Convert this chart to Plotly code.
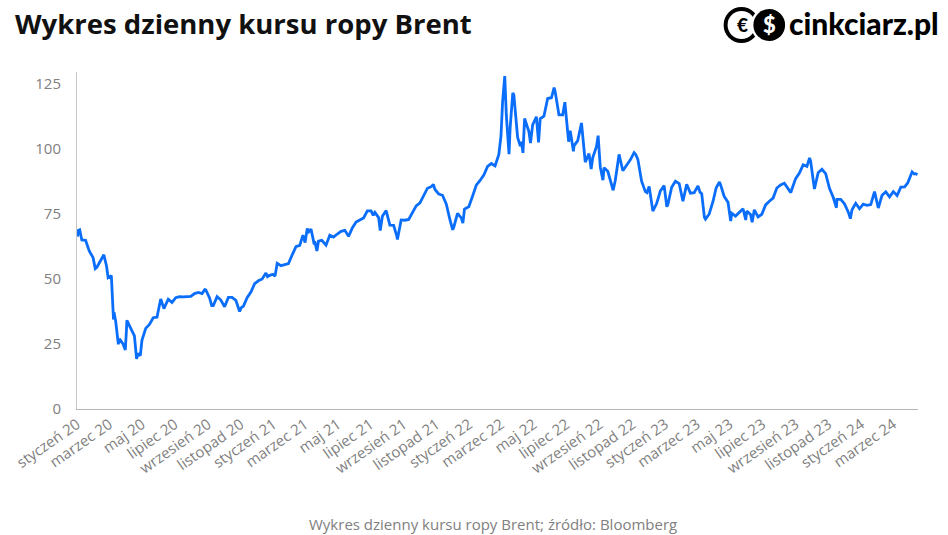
import plotly.graph_objects as go

dates = [
"2020-01-02","2020-01-03","2020-01-06","2020-01-10","2020-01-17","2020-01-24","2020-01-31","2020-02-04","2020-02-07","2020-02-14","2020-02-20","2020-02-25","2020-02-28",
"2020-03-05","2020-03-06","2020-03-09","2020-03-10","2020-03-13","2020-03-18","2020-03-20","2020-03-27","2020-03-31","2020-04-02","2020-04-03","2020-04-09","2020-04-14","2020-04-17","2020-04-21","2020-04-24","2020-04-28",
"2020-05-01","2020-05-08","2020-05-15","2020-05-22","2020-05-29","2020-06-05","2020-06-11","2020-06-19","2020-06-26","2020-07-03","2020-07-10","2020-07-17","2020-07-24","2020-07-31",
"2020-08-07","2020-08-14","2020-08-21","2020-08-26","2020-08-28","2020-09-04","2020-09-08","2020-09-11","2020-09-18","2020-09-25","2020-10-02","2020-10-09","2020-10-16","2020-10-23","2020-10-30",
"2020-11-02","2020-11-06","2020-11-13","2020-11-20","2020-11-27","2020-12-04","2020-12-11","2020-12-18","2020-12-21","2020-12-24","2020-12-31",
"2021-01-04","2021-01-08","2021-01-15","2021-01-22","2021-01-29","2021-02-05","2021-02-12","2021-02-19","2021-02-25","2021-03-01","2021-03-05","2021-03-08","2021-03-12","2021-03-18","2021-03-19","2021-03-23","2021-03-26",
"2021-04-01","2021-04-09","2021-04-16","2021-04-23","2021-04-30","2021-05-07","2021-05-14","2021-05-21","2021-05-28","2021-06-04","2021-06-11","2021-06-18","2021-06-25",
"2021-07-02","2021-07-06","2021-07-09","2021-07-16","2021-07-19","2021-07-23","2021-07-30","2021-08-06","2021-08-13","2021-08-19","2021-08-20","2021-08-27",
"2021-09-03","2021-09-10","2021-09-17","2021-09-24","2021-10-01","2021-10-08","2021-10-15","2021-10-22","2021-10-26","2021-10-29","2021-11-05","2021-11-12","2021-11-19","2021-11-26",
"2021-12-01","2021-12-03","2021-12-10","2021-12-17","2021-12-20","2021-12-23","2021-12-31",
"2022-01-07","2022-01-14","2022-01-21","2022-01-28","2022-02-04","2022-02-11","2022-02-18","2022-02-23","2022-02-25","2022-03-01","2022-03-04","2022-03-08","2022-03-11","2022-03-16","2022-03-18","2022-03-23","2022-03-25",
"2022-04-01","2022-04-06","2022-04-08","2022-04-11","2022-04-14","2022-04-22","2022-04-25","2022-04-29","2022-05-06","2022-05-10","2022-05-13","2022-05-20","2022-05-27",
"2022-06-03","2022-06-08","2022-06-10","2022-06-17","2022-06-24","2022-06-28","2022-07-01","2022-07-05","2022-07-08","2022-07-14","2022-07-15","2022-07-22","2022-07-29",
"2022-08-05","2022-08-12","2022-08-16","2022-08-19","2022-08-26","2022-08-29","2022-09-02","2022-09-07","2022-09-09","2022-09-16","2022-09-23","2022-09-26","2022-09-30",
"2022-10-07","2022-10-14","2022-10-21","2022-10-28","2022-11-04","2022-11-07","2022-11-11","2022-11-18","2022-11-25","2022-11-28","2022-12-02","2022-12-09","2022-12-16","2022-12-23","2022-12-30",
"2023-01-04","2023-01-06","2023-01-13","2023-01-20","2023-01-27","2023-02-03","2023-02-10","2023-02-17","2023-02-24","2023-03-03","2023-03-07","2023-03-10","2023-03-15","2023-03-17","2023-03-24","2023-03-31",
"2023-04-06","2023-04-12","2023-04-14","2023-04-21","2023-04-28","2023-05-03","2023-05-05","2023-05-12","2023-05-19","2023-05-26","2023-05-31","2023-06-02","2023-06-09","2023-06-12","2023-06-16","2023-06-23","2023-06-30",
"2023-07-07","2023-07-14","2023-07-21","2023-07-28","2023-08-04","2023-08-11","2023-08-18","2023-08-23","2023-08-25","2023-09-01","2023-09-08","2023-09-15","2023-09-22","2023-09-27","2023-09-29",
"2023-10-04","2023-10-06","2023-10-13","2023-10-20","2023-10-27","2023-11-03","2023-11-10","2023-11-16","2023-11-17","2023-11-24","2023-12-01","2023-12-08","2023-12-12","2023-12-15","2023-12-22","2023-12-29",
"2024-01-05","2024-01-12","2024-01-19","2024-01-26","2024-02-02","2024-02-09","2024-02-16","2024-02-23","2024-03-01","2024-03-08","2024-03-15","2024-03-22","2024-03-28","2024-04-05","2024-04-09","2024-04-12","2024-04-15",
]

brent = [
66.3,68.6,68.9,65.0,64.9,60.7,58.2,54.0,54.5,57.3,59.3,55.0,50.5,
51.3,45.3,34.4,37.2,33.9,24.9,27.0,24.9,22.7,29.9,34.1,31.5,29.6,28.1,19.3,21.4,20.5,
26.4,31.0,32.5,35.1,35.3,42.3,38.6,42.2,41.0,42.8,43.2,43.1,43.3,43.3,
44.4,44.8,44.4,45.9,45.8,42.7,39.8,39.8,43.2,41.9,39.3,42.9,42.9,41.8,37.5,
39.0,39.5,42.8,45.0,48.2,49.3,50.0,52.3,50.9,51.3,51.8,
51.1,56.0,55.1,55.4,55.9,59.3,62.4,62.9,66.9,64.0,69.4,68.2,69.2,63.3,64.5,60.8,64.6,
64.9,63.0,66.8,66.1,67.3,68.3,68.7,66.4,69.6,71.9,72.7,73.5,76.2,
76.2,74.5,75.6,73.6,68.6,74.1,76.3,70.7,70.6,66.4,65.2,72.7,
72.6,72.9,75.3,78.1,79.3,82.4,84.9,85.5,86.4,84.4,82.7,82.2,78.9,72.7,
68.9,69.9,75.2,73.5,71.5,76.9,77.8,
81.8,86.1,87.9,90.0,93.3,94.4,93.5,96.8,97.9,105.0,118.1,128.0,112.7,98.0,107.9,121.6,120.7,
104.4,101.1,102.8,98.5,111.7,106.7,102.3,109.3,112.4,102.5,111.6,112.6,119.4,
119.7,123.6,122.0,113.1,113.1,118.0,111.6,102.8,107.0,99.1,101.2,103.2,110.0,
94.9,98.2,92.3,96.7,101.0,105.1,93.0,88.0,92.8,91.4,86.2,84.1,88.0,
97.9,91.6,93.5,95.8,98.6,97.9,96.0,87.6,83.6,83.2,85.6,76.1,79.0,83.9,85.9,
77.8,78.6,85.3,87.6,86.7,79.9,86.4,83.0,83.2,85.8,83.3,82.8,73.7,73.0,75.0,79.8,
85.1,87.3,86.3,81.7,79.5,72.3,75.3,74.2,75.6,77.0,72.7,76.1,74.8,71.8,76.6,73.9,74.9,
78.5,79.9,81.1,85.0,86.2,86.8,84.8,83.2,84.5,88.6,90.7,93.9,93.3,96.6,95.3,
85.8,84.6,90.9,92.2,90.5,84.9,81.4,77.4,80.6,80.6,78.9,75.8,73.2,76.6,79.1,77.0,
78.8,78.3,78.6,83.6,77.3,82.2,83.5,81.6,83.6,82.1,85.3,85.4,87.0,91.2,90.4,90.5,90.1,
]

tick_dates = ["2020-01-01","2020-03-01","2020-05-01","2020-07-01","2020-09-01","2020-11-01",
              "2021-01-01","2021-03-01","2021-05-01","2021-07-01","2021-09-01","2021-11-01",
              "2022-01-01","2022-03-01","2022-05-01","2022-07-01","2022-09-01","2022-11-01",
              "2023-01-01","2023-03-01","2023-05-01","2023-07-01","2023-09-01","2023-11-01",
              "2024-01-01","2024-03-01"]
tick_labels = ["styczeń 20","marzec 20","maj 20","lipiec 20","wrzesień 20","listopad 20",
               "styczeń 21","marzec 21","maj 21","lipiec 21","wrzesień 21","listopad 21",
               "styczeń 22","marzec 22","maj 22","lipiec 22","wrzesień 22","listopad 22",
               "styczeń 23","marzec 23","maj 23","lipiec 23","wrzesień 23","listopad 23",
               "styczeń 24","marzec 24"]
y_ticks = [0, 25, 50, 75, 100, 125]

W, H = 948, 535
L, R, T, B = 70, 30, 72, 126
pw, ph = W - L - R, H - T - B

def px(x):
    return (x - L) / pw

def py(y):
    return (H - B - y) / ph

fig = go.Figure()
fig.add_trace(go.Scatter(x=dates, y=brent, mode="lines",
                         line=dict(color="#0a6efa", width=2.8), hoverinfo="skip"))

shapes = []
def circle(cx, cy, r, color):
    shapes.append(dict(type="circle", xref="paper", yref="paper",
                       x0=px(cx - r), x1=px(cx + r), y0=py(cy + r), y1=py(cy - r),
                       fillcolor=color, line=dict(width=0), layer="above"))
circle(740, 25, 18, "#000000")
circle(740, 25, 14, "#ffffff")
circle(768, 25, 18.5, "#ffffff")
circle(768, 25, 16, "#000000")

annotations = [
    dict(text="<b>Wykres dzienny kursu ropy Brent</b>", xref="paper", yref="paper",
         x=px(5), y=py(24), xanchor="left", yanchor="middle", showarrow=False,
         font=dict(family="Open Sans", size=27.5, color="#111111")),
    dict(text="€", xref="paper", yref="paper", x=px(741), y=py(25),
         xanchor="center", yanchor="middle", showarrow=False,
         font=dict(family="Lato", size=19, color="#000000", weight=900)),
    dict(text="$", xref="paper", yref="paper", x=px(768), y=py(25),
         xanchor="center", yanchor="middle", showarrow=False,
         font=dict(family="Lato", size=22, color="#ffffff", weight=900)),
    dict(text="cinkciarz.pl", xref="paper", yref="paper", x=px(786), y=py(23),
         xanchor="left", yanchor="middle", showarrow=False,
         font=dict(family="Lato", size=30, color="#000000", weight=900)),
    dict(text="Wykres dzienny kursu ropy Brent; źródło: Bloomberg", xref="paper", yref="paper",
         x=px(489), y=py(524), xanchor="center", yanchor="middle", showarrow=False,
         font=dict(family="Open Sans", size=15, color="#808080")),
]

fig.update_layout(
    width=W, height=H,
    margin=dict(l=L, r=R, t=T, b=B),
    paper_bgcolor="white", plot_bgcolor="white",
    showlegend=False,
    shapes=shapes, annotations=annotations,
    xaxis=dict(type="date", range=["2020-01-01", "2024-04-16"],
               tickvals=tick_dates, ticktext=tick_labels, tickangle=-35,
               showgrid=False, zeroline=False, showline=True, linecolor="#b5b5b5", linewidth=1,
               ticks="", tickfont=dict(family="Open Sans", size=15, color="#808080")),
    yaxis=dict(range=[0, 129.6], tickvals=y_ticks, showgrid=False, zeroline=False,
               showline=True, linecolor="#c8c8c8", linewidth=1, ticks="",
               ticklabelstandoff=12,
               tickfont=dict(family="Open Sans", size=15, color="#808080")),
)

fig.write_html("out.html", config={"displayModeBar": False},
               post_script="document.body.style.margin='0px';")
